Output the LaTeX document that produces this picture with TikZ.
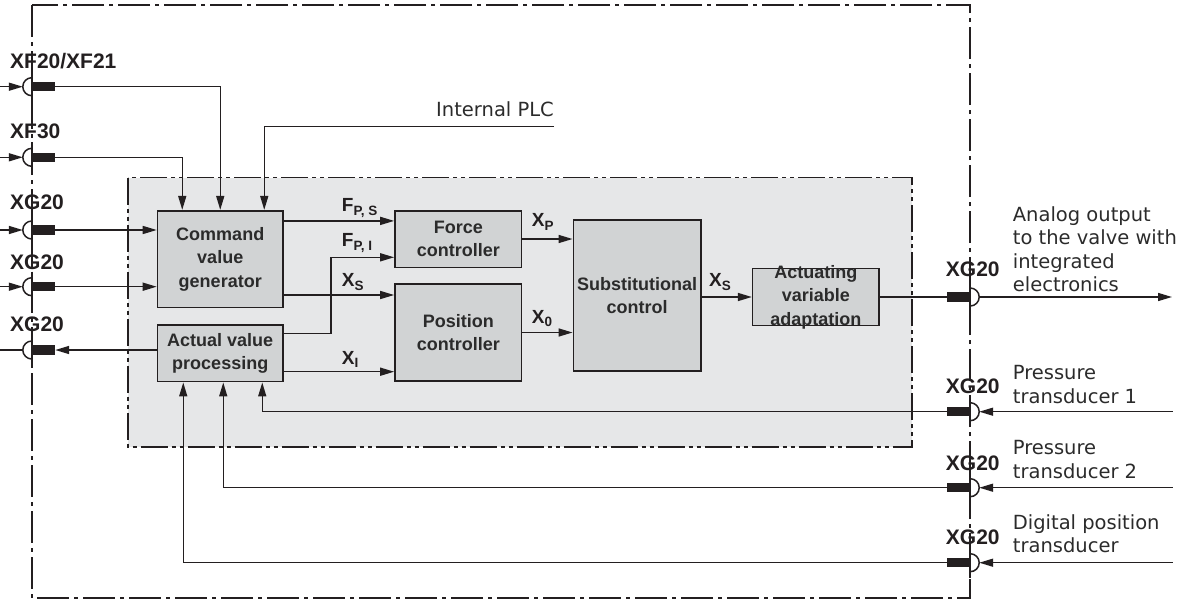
\documentclass[tikz,border=0pt]{standalone}
\usepackage{fontspec}
\setmainfont{DejaVu Sans}
\newfontfamily\libsans{Liberation Sans}
\usepackage{tikz}
\usetikzlibrary{arrows.meta, calc}

\definecolor{linegray}{HTML}{231F20}
\definecolor{areagray}{HTML}{E6E7E8}
\definecolor{blockgray}{HTML}{D1D3D4}
\definecolor{textgray}{HTML}{2B2B2B}

% lowered index of a signal name
\newcommand\sigidx[1]{\raisebox{-3.5pt}{\fontsize{13.5}{14}\selectfont#1}}

\tikzset{
  frame/.style={draw=linegray, line width=1.3pt, dash pattern=on 32pt off 5pt on 4pt off 5pt},
  area/.style={draw=linegray, line width=1.3pt, fill=areagray,
    dash pattern=on 27pt off 4pt on 4pt off 4pt on 4pt off 4pt},
  block/.style={draw=linegray, line width=1.6pt, fill=blockgray, inner sep=0pt,
    align=center, text=textgray, font=\libsans\bfseries\fontsize{18}{23.5}\selectfont},
  blocktext/.style={inner sep=0pt, align=center, text=textgray,
    font=\libsans\bfseries\fontsize{18}{23.5}\selectfont},
  plug/.style={fill=linegray, inner sep=0pt, minimum width=23pt, minimum height=9.5pt},
  wire/.style={draw=linegray, line width=1.5pt},
  sig/.style={wire, -{Triangle[length=14pt, width=8pt]}},
  pin/.style={anchor=base west, inner sep=0pt, text=linegray,
    font=\libsans\bfseries\fontsize{21}{24}\selectfont},
  sym/.style={anchor=base west, inner sep=0pt, text=linegray,
    font=\libsans\bfseries\fontsize{19}{20}\selectfont},
  note/.style={anchor=base west, inner sep=0pt, align=left, text=textgray,
    font=\fontsize{19.5}{23.5}\selectfont}
}

\begin{document}
\begin{tikzpicture}[x=1pt, y=-1pt]
\useasboundingbox (0,0) rectangle (1192,605);

% housing and controller area
\draw[frame] (32,5) rectangle (970,598);
\draw[area] (128,177.5) rectangle (912,447);

% function blocks
\node[block, minimum width=125.5pt, minimum height=96.6pt] (cmd) at (220.25,259) {Command\\value\\generator};
\node[block, minimum width=125.5pt, minimum height=56.7pt] (act) at (220.25,353.3) {Actual value\\processing};
\node[block, minimum width=126.7pt, minimum height=56.6pt] (force) at (458.3,239) {Force\\controller};
\node[block, minimum width=126.7pt, minimum height=97pt] (pos) at (458.3,332.5) {Position\\controller};
\node[block, minimum width=127.7pt, minimum height=151pt] (subst) at (637.2,295.5) {Substitutional\\control};
\node[block, minimum width=126.3pt, minimum height=56.7pt] (adapt) at (815.8,297) {};
\node[blocktext] (adapttext) at (adapt.center) {Actuating\\variable\\adaptation};

% plugs on the left side
\foreach \n/\y in {XF20/86.7, XF30/157.3, XGa/230, XGb/286.7, XGc/350} {
  \node[plug] (p\n) at (43.5,\y) {};
  \draw[wire] ([yshift=9pt]p\n.west) arc[start angle=90, end angle=270, radius=9pt];
  \draw[wire] ([yshift=15pt]p\n.west) -- ([yshift=-15pt]p\n.west);
}
% plugs on the right side
\foreach \n/\y in {Out/297, Pa/411.7, Pb/487.7, Dp/562.7} {
  \node[plug] (p\n) at (958.5,\y) {};
  \draw[wire] ([yshift=9pt]p\n.east) arc[start angle=90, end angle=-90, radius=9pt];
  \draw[wire] ([yshift=15pt]p\n.east) -- ([yshift=-15pt]p\n.east);
}

% plug names
\node[pin] (lXF20) at (10,68) {XF20/XF21};
\node[pin] (lXF30) at (10,138) {XF30};
\node[pin] (lXGa) at (10,209) {XG20};
\node[pin] (lXGb) at (10,269) {XG20};
\node[pin] (lXGc) at (10,331.7) {XG20};
\node[pin] (lOut) at (945.7,276) {XG20};
\node[pin] (lPa) at (945.7,393.3) {XG20};
\node[pin] (lPb) at (945.7,470) {XG20};
\node[pin] (lDp) at (945.7,544.3) {XG20};

% outside signals
\coordinate (inXF20) at (0,86.7);
\coordinate (inXF30) at (0,157.3);
\coordinate (inXGa) at (0,230);
\coordinate (inXGb) at (0,286.7);
\coordinate (outXGc) at (0,350);
\coordinate (plc) at (554,126.7);
\coordinate (outEnd) at (1172,297);
\coordinate (inPa) at (1172.7,411.7);
\coordinate (inPb) at (1172.7,487.7);
\coordinate (inDp) at (1172.7,562.7);

\draw[sig] (inXF20) -- ([xshift=-9pt]pXF20.west);
\draw[sig] (inXF30) -- ([xshift=-9pt]pXF30.west);
\draw[sig] (inXGa) -- ([xshift=-9pt]pXGa.west);
\draw[sig] (inXGb) -- ([xshift=-9pt]pXGb.west);
\draw[wire] (outXGc) -- ([xshift=-9pt]pXGc.west);
\draw[sig] ([xshift=9pt]pOut.east) -- (outEnd);
\draw[sig] (inPa) -- ([xshift=9pt]pPa.east);
\draw[sig] (inPb) -- ([xshift=9pt]pPb.east);
\draw[sig] (inDp) -- ([xshift=9pt]pDp.east);

% into the command value generator
\draw[sig] (pXF20.east) -| (cmd.north);
\draw[sig] (pXF30.east) -| ([xshift=-38pt]cmd.north);
\draw[sig] (plc) -| ([xshift=44pt]cmd.north);
\draw[sig] (pXGa.east) -- (pXGa.east -| cmd.west);
\draw[sig] (pXGb.east) -- (pXGb.east -| cmd.west);
\node[note, anchor=base east] (lplc) at (554,116.7) {Internal PLC};

% actual values
\draw[sig] (pXGc.east -| act.west) -- (pXGc.east);
\draw[sig] (pPa.west) -| ([xshift=42pt]act.south);
\draw[sig] (pPb.west) -| ([xshift=3pt]act.south);
\draw[sig] (pDp.west) -| ([xshift=-37pt]act.south);

% controller signals
\coordinate (fps) at ($(cmd.north east)+(0,11)$);
\coordinate (fpi) at ($(act.east)+(0,-20)$);
\coordinate (xs) at ($(cmd.east)+(0,36)$);
\coordinate (xi) at ($(act.east)+(0,18.4)$);
\draw[sig] (fps) -- (fps -| force.west);
\draw[sig] (fpi) -- ++(47,0) |- ([yshift=-18.3pt]force.west);
\draw[sig] (xs) -- (xs -| pos.west);
\draw[sig] (xi) -- (xi -| pos.west);
\draw[sig] (force.east) -- (force.east -| subst.west);
\draw[sig] (pos.east) -- (pos.east -| subst.west);
\draw[sig] (adapt.west -| subst.east) -- (adapt.west);
\draw[wire] (adapt.east) -- (pOut.west);

\node[sym] (lfps) at (341.7,211.7) {F\sigidx{P, S}};
\node[sym] (lfpi) at (341.7,246.7) {F\sigidx{P, I}};
\node[sym] (lxs) at (341.7,286.7) {X\sigidx{S}};
\node[sym] (lxi) at (341.7,364) {X\sigidx{I}};
\node[sym] (lxp) at (531.7,226.7) {X\sigidx{P}};
\node[sym] (lxo) at (531.7,323.3) {X\sigidx{0}};
\node[sym] (lxss) at (709,286.7) {X\sigidx{S}};

% descriptions on the right (anchored at the last line)
\node[note] (nOut) at (1012.7,291.7) {Analog output\\to the valve with\\integrated\\electronics};
\node[note] (nPa) at (1012.7,403.3) {Pressure\\transducer 1};
\node[note] (nPb) at (1012.7,478.3) {Pressure\\transducer 2};
\node[note] (nDp) at (1012.7,552.7) {Digital position\\transducer};
\end{tikzpicture}
\end{document}
